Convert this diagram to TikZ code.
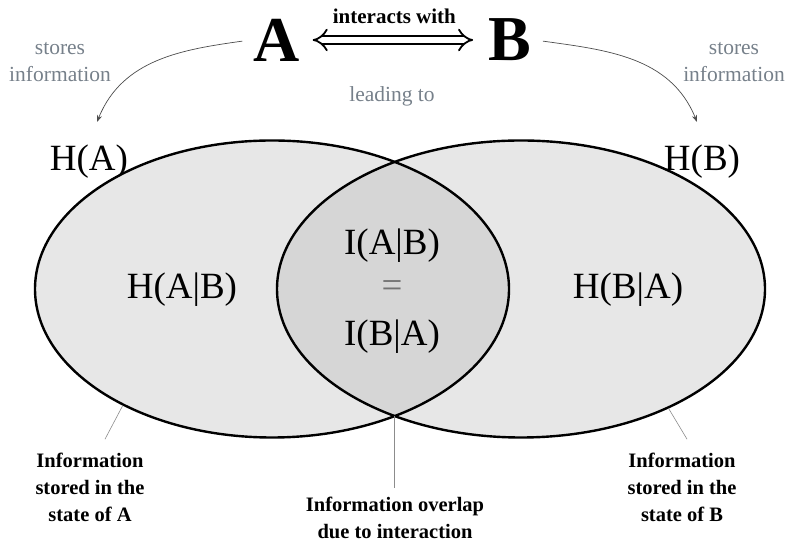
\documentclass[tikz,border=0pt]{standalone}
\usepackage{fontspec}
\setmainfont{Liberation Serif}
\usetikzlibrary{positioning,shapes.geometric,arrows.meta}
\definecolor{setgray}{RGB}{231,231,231}
\definecolor{overlapgray}{RGB}{214,214,214}
\definecolor{notegray}{RGB}{118,128,138}
\tikzset{
  agent/.style={font=\fontsize{64}{64}\selectfont\bfseries},
  entropy/.style={font=\fontsize{37}{40}\selectfont},
  note/.style={font=\fontsize{21.5}{27}\selectfont, text=notegray, align=center},
  caption/.style={font=\fontsize{20.5}{27}\selectfont\bfseries, align=center},
  set/.style={ellipse, draw, line width=2.4pt, inner sep=0pt},
  stores/.style={-{Stealth[length=7pt,width=5pt]}, draw=black!70, line width=0.7pt},
  leader/.style={draw=black!45, line width=0.6pt},
}
\begin{document}
\begin{tikzpicture}[x=1pt,y=1pt]
\useasboundingbox (0,0) rectangle (787,548);
\fill[setgray] (272,259) ellipse [x radius=237, y radius=148.5];
\fill[setgray] (521,259) ellipse [x radius=244, y radius=148.5];
\begin{scope}
\clip (272,259) ellipse [x radius=237, y radius=148.5];
\fill[overlapgray] (521,259) ellipse [x radius=244, y radius=148.5];
\end{scope}
\node[set, minimum width=474pt, minimum height=297pt] (setA) at (272,259) {};
\node[set, minimum width=488pt, minimum height=297pt] (setB) at (521,259) {};

\node[agent] (A) at (277,508) {A};
\node[agent] (B) at (510,508) {B};
\draw[line width=1.8pt, double distance=6pt, {Implies}-{Implies}, shorten <=9pt, shorten >=12pt]
  (A) -- node[above=12pt, font=\fontsize{21}{24}\selectfont\bfseries, name=interact] {interacts with} (B);
\node[note] (lead) at (392,452) {leading to};

\node[note] (storeA) at (60,486) {stores\\information};
\node[note] (storeB) at (734,486) {stores\\information};
\coordinate (tipA) at (97,426);
\coordinate (tipB) at (697,426);
\draw[stores, shorten <=8pt] (A.west) to[out=188, in=68] (tipA);
\draw[stores, shorten <=8pt] (B.east) to[out=-8, in=112] (tipB);

\node[entropy] (HA) at (89,386) {H(A)};
\node[entropy] (HB) at (702,386) {H(B)};
\node[entropy] (HAB) at (182,258) {H(A|B)};
\node[entropy] (HBA) at (628,258) {H(B|A)};
\node[entropy, text=black!55] (eq) at (392,259) {=};
\node[entropy, above=11pt of eq] (IAB) {I(A|B)};
\node[entropy, below=15pt of eq] (IBA) {I(B|A)};

\node[caption] (infoA) at (90,61) {Information\\stored in the\\state of A};
\node[caption] (infoB) at (682,61) {Information\\stored in the\\state of B};
\node[caption] (infoAB) at (395,30) {Information overlap\\due to interaction};
\coordinate (lens) at (394.7,132);
\draw[leader] (setA.218) -- ([xshift=15pt,yshift=10pt]infoA.north);
\draw[leader] (setB.321) -- ([xshift=5pt,yshift=10pt]infoB.north);
\draw[leader] (lens) -- ([yshift=6pt]infoAB.north -| lens);
\end{tikzpicture}
\end{document}
